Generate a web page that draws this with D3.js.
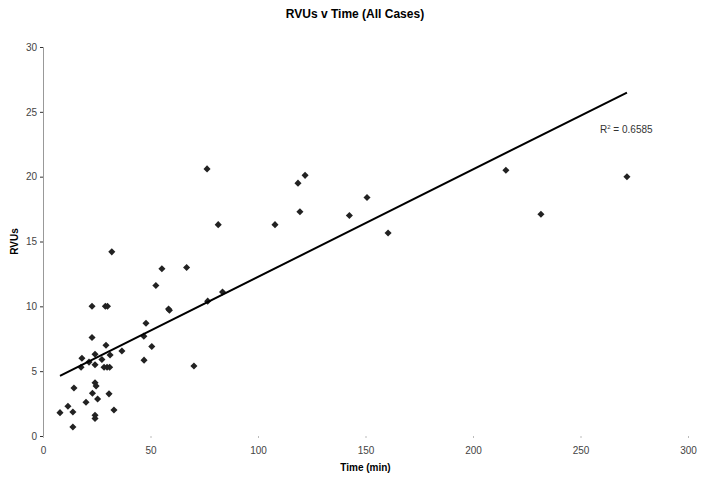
<!DOCTYPE html>
<head>
  <meta charset="utf-8">
  <script src="https://d3js.org/d3.v7.min.js"></script>
  <style>
    body { margin:0; background:#fff; }
    text { font-family: "Liberation Sans", Arial, sans-serif; }
  </style>
</head>
<body>
<script>

  // case times (min) and RVUs
  var times = [7.9, 11.6, 13.9, 13.9, 14.4, 17.7, 18.1, 20, 21.4, 22.8,
               22.8, 23, 24.2, 24.2, 24.2, 24.7, 24.2, 24.2, 25.4, 27.4,
               28.4, 29.3, 29.0, 30.0, 29.8, 31.2, 31.0, 30.7, 32.0, 33,
               36.7, 47, 46.9, 47.9, 50.6, 52.5, 55.3, 58.4, 58.8, 66.8,
               70.2, 76.3, 76.6, 81.5, 83.5, 107.9, 118.6, 119.5, 121.9, 142.5,
               150.7, 160.5, 215.3, 231.6, 271.6];
  var rvus  = [1.8, 2.3, 1.85, 0.7, 3.7, 5.3, 6.0, 2.6, 5.7, 7.6,
               10.0, 3.3, 1.6, 1.35, 4.1, 3.85, 6.3, 5.5, 2.85, 5.9,
               5.3, 7.0, 10.0, 10.0, 5.3, 6.25, 5.3, 3.25, 14.2, 2.0,
               6.55, 5.85, 7.7, 8.7, 6.9, 11.6, 12.9, 9.8, 9.7, 13.0,
               5.4, 20.6, 10.4, 16.3, 11.1, 16.3, 19.5, 17.3, 20.1, 17.0,
               18.4, 15.65, 20.5, 17.1, 20.0];

  var xTicks = [0, 50, 100, 150, 200, 250, 300];
  var yTicks = [0, 5, 10, 15, 20, 25, 30];
  var r2Label = "0.6585";

  var width = 704, height = 477;
  var margin = {top: 47, right: 16, bottom: 41, left: 43};

  var svg = d3.select("body").append("svg")
    .attr("width", width)
    .attr("height", height);

  var x = d3.scaleLinear().domain([0, 300]).range([margin.left, width - margin.right]);
  var y = d3.scaleLinear().domain([0, 30]).range([height - margin.bottom, margin.top]);

  var pts = times.map(function(t, i){ return {t: t, v: rvus[i]}; });

  // title
  svg.append("text")
    .attr("x", 355).attr("y", 18)
    .attr("text-anchor", "middle")
    .style("font-size", "12px").style("font-weight", "bold")
    .text("RVUs v Time (All Cases)");

  // y axis
  var yAxis = svg.append("g")
    .attr("transform", "translate(" + margin.left + ",0)")
    .call(d3.axisLeft(y).tickValues(yTicks).tickSize(3).tickPadding(3));
  yAxis.select(".domain").attr("stroke", "#999");
  yAxis.selectAll(".tick line").attr("stroke", "#333");
  yAxis.selectAll("text").style("font-size", "10px").attr("fill", "#444");

  // x axis: no line, faint ticks
  var xAxis = svg.append("g")
    .attr("transform", "translate(0," + y(0) + ")")
    .call(d3.axisBottom(x).tickValues(xTicks).tickSize(2).tickPadding(9));
  xAxis.select(".domain").remove();
  xAxis.selectAll(".tick line").attr("stroke", "#bbb");
  xAxis.selectAll("text").style("font-size", "10px").attr("fill", "#444");

  svg.append("text")
    .attr("transform", "translate(18," + ((margin.top + y(0)) / 2) + ") rotate(-90)")
    .attr("text-anchor", "middle")
    .style("font-size", "10px").style("font-weight", "bold")
    .text("RVUs");

  svg.append("text")
    .attr("x", (x(0) + x(300)) / 2).attr("y", 471)
    .attr("text-anchor", "middle")
    .style("font-size", "10px").style("font-weight", "bold")
    .text("Time (min)");

  // points
  var diamond = d3.symbol().type(d3.symbolSquare).size(25);
  svg.append("g").selectAll("path")
    .data(pts)
    .enter().append("path")
    .attr("d", diamond)
    .attr("fill", "#222")
    .attr("transform", function(d){ return "translate(" + x(d.t) + "," + y(d.v) + ") rotate(45)"; });

  // least squares trend line
  var mt = d3.mean(times), mv = d3.mean(rvus);
  var sxy = d3.sum(pts, function(d){ return (d.t - mt) * (d.v - mv); });
  var sxx = d3.sum(pts, function(d){ return (d.t - mt) * (d.t - mt); });
  var slope = sxy / sxx, icpt = mv - slope * mt;
  var ext = d3.extent(times);
  var line = d3.line()
    .x(function(d){ return x(d); })
    .y(function(d){ return y(icpt + slope * d); });
  svg.append("path")
    .attr("d", line(ext))
    .attr("fill", "none")
    .attr("stroke", "#000")
    .attr("stroke-width", 2);

  var r2 = svg.append("text")
    .attr("x", 600).attr("y", 133)
    .style("font-size", "10px").attr("fill", "#333");
  r2.append("tspan").text("R");
  r2.append("tspan").attr("dy", -4).style("font-size", "6px").text("2");
  r2.append("tspan").attr("dy", 4).text(" = " + r2Label);

</script>
</body>
